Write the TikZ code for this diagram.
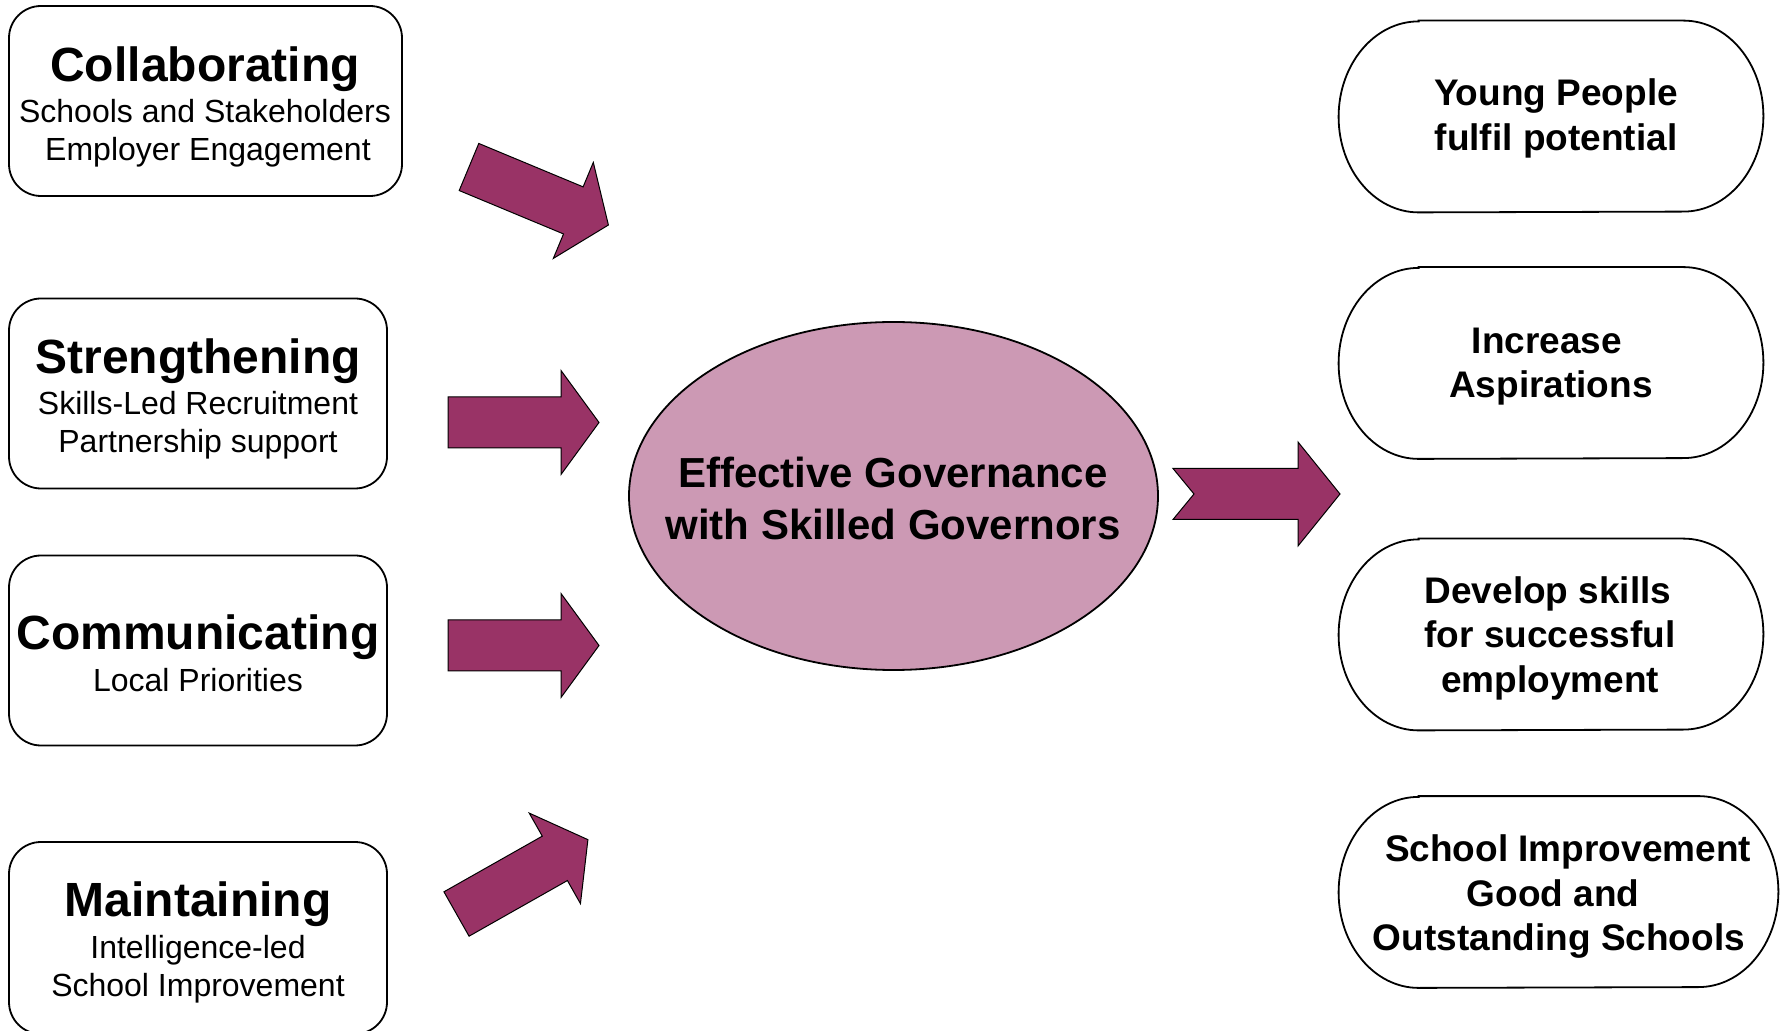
\documentclass[tikz,border=0pt]{standalone}
\usepackage{fontspec}
\setmainfont{Liberation Sans}
\usetikzlibrary{shapes.geometric}
\definecolor{arrowfill}{HTML}{993366}
\definecolor{ellfill}{HTML}{CC99B4}
\begin{document}
\begin{tikzpicture}[x=0.5pt,y=-0.5pt,
  leftbox/.style={draw, line width=0.9pt, rounded corners=16pt, inner sep=0, minimum height=95pt},
  rightbox/.style={inner sep=0, minimum width=212pt, minimum height=95.5pt},
  fatarrow/.style={draw=black, line width=0.5pt, fill=arrowfill, line join=miter},
  ttl/.style={anchor=base, inner sep=0, font=\fontsize{24}{28}\selectfont\bfseries},
  sub/.style={anchor=base, inner sep=0, font=\fontsize{16}{19}\selectfont},
  ctr/.style={anchor=base, inner sep=0, font=\fontsize{21}{26}\selectfont\bfseries},
  rtx/.style={anchor=base, inner sep=0, font=\fontsize{18.5}{22}\selectfont\bfseries}]
\useasboundingbox (0,0) rectangle (1789,1031);

% left boxes
\node[leftbox, minimum width=196.5pt] (b1) at (205.5,101) {};
\node[leftbox, minimum width=189pt] (b2) at (198,393.5) {};
\node[leftbox, minimum width=189pt] (b3) at (198,650.5) {};
\node[leftbox, minimum width=189pt, minimum height=96pt] (b4) at (198,938) {};

\node[ttl] (t1) at (205,82) {Collaborating};
\node[sub] (s1a) at (205,123) {Schools and Stakeholders};
\node[sub] (s1b) at (208,161) {Employer Engagement};

\node[ttl] (t2) at (198,374) {Strengthening};
\node[sub] (s2a) at (198,415) {Skills-Led Recruitment};
\node[sub] (s2b) at (198,453) {Partnership support};

\node[ttl] (t3) at (198,650) {Communicating};
\node[sub] (s3a) at (198,691) {Local Priorities};

\node[ttl] (t4) at (198,916) {Maintaining};
\node[sub] (s4a) at (198,958) {Intelligence-led};
\node[sub] (s4b) at (198,996) {School Improvement};

% centre ellipse
\node[ellipse, draw, line width=0.9pt, fill=ellfill, inner sep=0,
      minimum width=264.5pt, minimum height=174pt] (c) at (893.5,496) {};
\node[ctr] (c1) at (893,488) {Effective Governance};
\node[ctr] (c2) at (893,540) {with Skilled Governors};

% right rounded boxes
\node[rightbox] (r1) at (1551,116.5) {};
\node[rightbox] (r2) at (1551,363) {};
\node[rightbox] (r3) at (1551,634.5) {};
\node[rightbox, minimum width=219.5pt] (r4) at (1558.5,892) {};
\foreach \r in {r1,r2,r3,r4}{
  \draw[line width=0.9pt] ([xshift=40pt]\r.north west) -- ([xshift=-40pt]\r.north east)
    arc[start angle=90, end angle=-90, x radius=40pt, y radius=47.75pt]
    -- ([xshift=40pt]\r.south west)
    arc[start angle=270, end angle=90, x radius=40pt, y radius=47.75pt] -- cycle;
}

\node[rtx] (r1a) at (1556,106) {Young People};
\node[rtx] (r1b) at (1556,151) {fulfil potential};
\node[rtx] (r2a) at (1547,354) {Increase};
\node[rtx] (r2b) at (1551,398) {Aspirations};
\node[rtx] (r3a) at (1548,604) {Develop skills};
\node[rtx] (r3b) at (1550,648) {for successful};
\node[rtx] (r3c) at (1550,693) {employment};
\node[rtx] (r4a) at (1568,861) {School Improvement};
\node[rtx] (r4b) at (1553,906) {Good and};
\node[rtx] (r4c) at (1559,950) {Outstanding Schools};

% block arrows into the centre
\begin{scope}[shift={(469,167)}, rotate=-22.6]
  \draw[fatarrow] (0,-25.5) -- (113,-25.5) -- (113,-52) -- (151,0) -- (113,52) -- (113,25.5) -- (0,25.5) -- cycle;
\end{scope}
\begin{scope}[shift={(448,422.5)}]
  \draw[fatarrow] (0,-25.5) -- (113,-25.5) -- (113,-52) -- (151,0) -- (113,52) -- (113,25.5) -- (0,25.5) -- cycle;
\end{scope}
\begin{scope}[shift={(448,645.5)}]
  \draw[fatarrow] (0,-25.5) -- (113,-25.5) -- (113,-52) -- (151,0) -- (113,52) -- (113,25.5) -- (0,25.5) -- cycle;
\end{scope}
\begin{scope}[shift={(456.5,914)}, rotate=29.5]
  \draw[fatarrow] (0,-25.5) -- (113,-25.5) -- (113,-52) -- (151,0) -- (113,52) -- (113,25.5) -- (0,25.5) -- cycle;
\end{scope}
% notched arrow out of the centre
\begin{scope}[shift={(1173,494)}]
  \draw[fatarrow] (0,-25.5) -- (125,-25.5) -- (125,-52) -- (167,0) -- (125,52) -- (125,25.5) -- (0,25.5) -- (21,0) -- cycle;
\end{scope}
\end{tikzpicture}
\end{document}
